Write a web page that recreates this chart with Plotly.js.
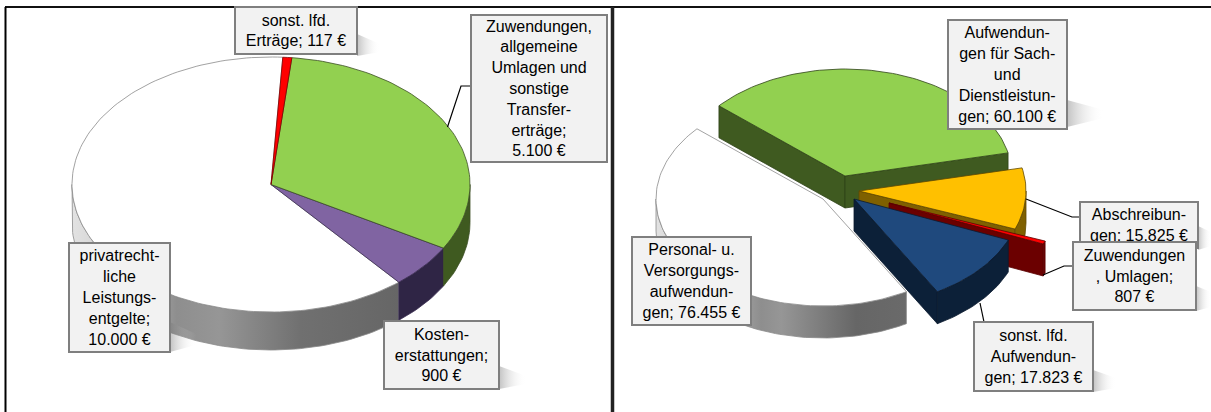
<!DOCTYPE html>
<html><head><meta charset="utf-8">
<script src="https://cdn.plot.ly/plotly-3.0.1.min.js"></script>
<style>html,body{margin:0;padding:0;background:#fff}#c{width:1211px;height:412px}</style>
</head><body><div id="c"></div>
<script>
// ---- data ----
const leftCategories = ["sonst. lfd. Erträge","Zuwendungen, allgemeine Umlagen und sonstige Transfererträge","Kostenerstattungen","privatrechtliche Leistungsentgelte"];
const leftValues = [117,5100,900,10000];
const leftLabels = ["sonst. lfd.<br>Erträge; 117 €","Zuwendungen,<br>allgemeine<br>Umlagen und<br>sonstige<br>Transfer-<br>erträge;<br>5.100 €","Kosten-<br>erstattungen;<br>900 €","privatrecht-<br>liche<br>Leistungs-<br>entgelte;<br>10.000 €"];
const rightCategories = ["Aufwendungen für Sach- und Dienstleistungen","Abschreibungen","Zuwendungen, Umlagen","sonst. lfd. Aufwendungen","Personal- u. Versorgungsaufwendungen"];
const rightValues = [60100,15825,807,17823,76455];
const rightLabels = ["Aufwendun-<br>gen für Sach-<br>und<br>Dienstleistun-<br>gen; 60.100 €","Abschreibun-<br>gen; 15.825 €","Zuwendungen<br>, Umlagen;<br>807 €","sonst. lfd.<br>Aufwendun-<br>gen; 17.823 €","Personal- u.<br>Versorgungs-<br>aufwendun-<br>gen; 76.455 €"];

// ---- styles ----
const leftStyle = {start:3.4, rx:199, ry:127.5, depth:38, slices:[
 {cx:271,cy:184.5,top:"#ff0000",wall:"#7f0000",line:"#7f0000"},
 {cx:271,cy:184.5,top:"#92d050",wall:"#3f5a20",line:"#3c4f25"},
 {cx:271,cy:184.5,top:"#8064a2",wall:"#2f2545",line:"#3a2c50"},
 {cx:271,cy:184.5,top:"#ffffff",line:"#8a8a8a",grad:[[0,"#e2e2e2"],[0.12,"#d0d0d0"],[0.32,"#8e8e8e"],[0.45,"#969696"],[0.7,"#707070"],[1,"#666666"]]}
]};
const rightStyle = {start:-49, rx:167, ry:107, depth:32, slices:[
 {cx:845,cy:176,top:"#92d050",wall:"#3f5a20",line:"#2f4218"},
 {cx:859,cy:191,top:"#ffc000",wall:"#7f6000",line:"#5f4800"},
 {cx:889,cy:203,top:"#ff0000",wall:"#6b0000",line:"#5a0000"},
 {cx:854,cy:199,top:"#1f497d",wall:"#0c2038",line:"#0b1a2e"},
 {cx:823,cy:199,top:"#ffffff",line:"#8a8a8a",grad:[[0,"#e2e2e2"],[0.12,"#d0d0d0"],[0.42,"#8e8e8e"],[0.5,"#969696"],[0.8,"#666666"],[1,"#6a6a6a"]]}
]};
const leftBoxes = [[235,357,7,54],[471,607,15,162],[384,499,321,389],[69,170,243,352]];
const rightBoxes = [[948.5,1067,20,129],[1080,1198,202,248],[1073,1196,242,310],[974,1093,322,391],[632,751,237,325]];
const leaders = [[[447.5,461,471],[127,86,86]],[[1026,1072,1080],[199,217,217]],[[1043,1064,1073],[275,266,266]],[[980,984],[303,322]]];
// soft label shadows: x0, x1, y of the top at x0, y of the bottom at x0, top/bottom at x1
const shadows = [[357,380,34,56,44,52],[499,526,366,389,376,384],[1067,1104,100,127,110,118],[1093,1116,370,392,378,388],[1198,1211,226,250,232,246],[1196,1211,286,311,292,307],[170,196,322,352,334,345]];

const rad = d => d*Math.PI/180;
function arc(s,st,a0,a1,dz){ const n=Math.max(2,Math.ceil(Math.abs(a1-a0)/1.5)); const xs=[],ys=[];
  for(let i=0;i<=n;i++){const a=a0+(a1-a0)*i/n; xs.push(s.cx+st.rx*Math.sin(rad(a))); ys.push(s.cy-st.ry*Math.cos(rad(a))+dz);} return [xs,ys]; }
function poly(xs,ys,fill,line,extra){ return Object.assign({type:"scatter",mode:"lines",x:xs,y:ys,fill:"toself",fillcolor:fill,
   line:{color:line||fill,width:line?0.8:0},hoverinfo:"skip",showlegend:false},extra||{}); }
function quad(s,st,a,fill,line){ const x=s.cx+st.rx*Math.sin(rad(a)), y=s.cy-st.ry*Math.cos(rad(a));
   return poly([s.cx,x,x,s.cx,s.cx],[s.cy,y,y+st.depth,s.cy+st.depth,s.cy],fill,line); }
function pie(values,st,order,radial){ const total=values.reduce((p,c)=>p+c,0); let a=st.start; const sl=values.map((v,i)=>{const r={a0:a,a1:a+v/total*360,s:st.slices[i],i}; a=r.a1; return r;});
  const out=[];
  order.forEach(i=>{ const r=sl[i], s=r.s; const lo=Math.max(r.a0,90), hi=Math.min(r.a1,270);
    (radial[i]||[]).forEach(k=>{ out.push(quad(s,st,k?r.a1:r.a0,s.wall,s.line)); });
    if(hi>lo){ const t=arc(s,st,lo,hi,0), b=arc(s,st,hi,lo,st.depth);
      const xs=t[0].concat(b[0],[t[0][0]]), ys=t[1].concat(b[1],[t[1][0]]);
      if(s.grad) out.push(poly(xs,ys,"#888888","#8a8a8a",{fillgradient:{type:"horizontal",colorscale:s.grad}}));
      else out.push(poly(xs,ys,s.wall,s.line)); }
    const t=arc(s,st,r.a0,r.a1,0);
    out.push(poly([s.cx].concat(t[0],[s.cx]),[s.cy].concat(t[1],[s.cy]),s.top,s.line));
  });
  return out; }

const traces=[];
traces.push(...pie(leftValues,leftStyle,[3,2,1,0],{}));
traces.push(...pie(rightValues,rightStyle,[4,0,1,2,3],{0:[0,1],1:[1],2:[1],3:[1]}));
shadows.forEach(b=>{ traces.push(poly([b[0],b[1],b[1],b[0],b[0]],[b[2],b[4],b[5],b[3],b[2]],"rgba(150,150,150,0.3)",null,
   {fillgradient:{type:"horizontal",colorscale:[[0,"rgba(110,110,110,0.42)"],[1,"rgba(255,255,255,0)"]]}})); });
leaders.forEach(l=>traces.push({type:"scatter",mode:"lines",x:l[0],y:l[1],line:{color:"#000",width:1.2},hoverinfo:"skip",showlegend:false}));

function notes(labels,boxes){ return labels.map((t,i)=>{const b=boxes[i]; return {xref:"x",yref:"y",x:(b[0]+b[1])/2,y:(b[2]+b[3])/2,xanchor:"center",yanchor:"middle",
  width:b[1]-b[0]-2,height:b[3]-b[2]-2,text:t,showarrow:false,align:"center",valign:"middle",bgcolor:"#f2f2f2",bordercolor:"#7f7f7f",borderwidth:2,borderpad:0,
  font:{family:"Liberation Sans, Arial, sans-serif",size:16,color:"#000"}};}); }

const layout={width:1211,height:412,margin:{l:0,r:0,t:0,b:0},paper_bgcolor:"#fff",plot_bgcolor:"#fff",showlegend:false,
 xaxis:{range:[0,1211],visible:false,fixedrange:true},yaxis:{range:[412,0],visible:false,fixedrange:true},
 annotations:notes(leftLabels,leftBoxes).concat(notes(rightLabels,rightBoxes)),
 shapes:[
  {type:"line",xref:"x",yref:"y",x0:5.5,x1:5.5,y0:7,y1:412,line:{color:"#000",width:2}},
  {type:"line",xref:"x",yref:"y",x0:5,x1:1211,y0:7,y1:7,line:{color:"#111",width:2},layer:"below"},
  {type:"line",xref:"x",yref:"y",x0:612.5,x1:612.5,y0:7,y1:412,line:{color:"#222",width:3.5}}
 ]};
Plotly.newPlot("c",traces,layout,{displayModeBar:false,staticPlot:true});
</script></body></html>
